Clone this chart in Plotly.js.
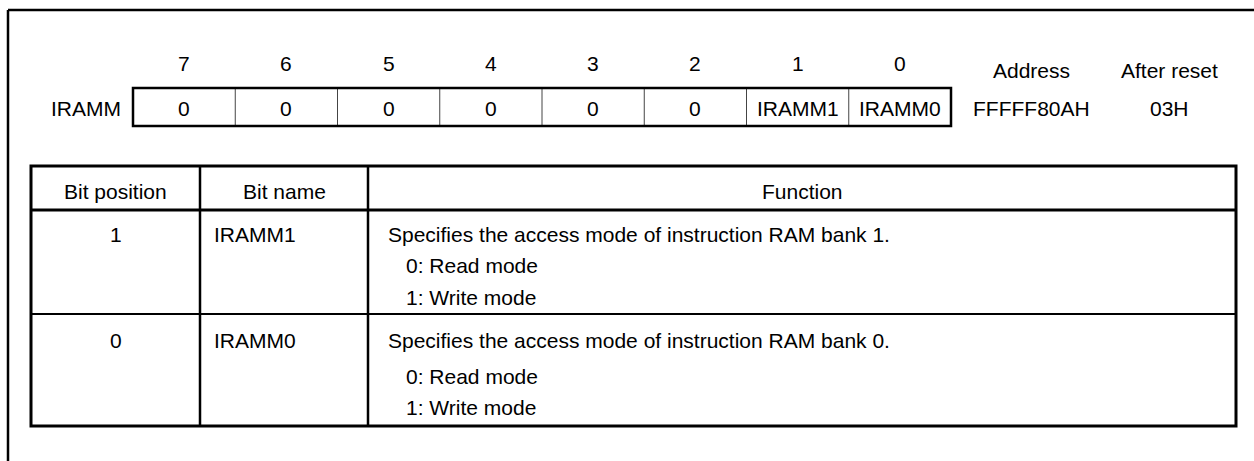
<!DOCTYPE html>
<html>
<head>
<meta charset="utf-8">
<script src="https://cdn.plot.ly/plotly-3.0.1.min.js"></script>
<style>html,body{margin:0;padding:0;background:#fff;}#chart{width:1254px;height:461px;}</style>
</head>
<body>
<div id="chart"></div>
<script>
// ---- data ----
const registerName = 'IRAMM';
const bitNumbers = ['7', '6', '5', '4', '3', '2', '1', '0'];
const bitValues = ['0', '0', '0', '0', '0', '0', 'IRAMM1', 'IRAMM0'];
const addressLabel = 'Address';
const addressValue = 'FFFFF80AH';
const resetLabel = 'After reset';
const resetValue = '03H';
const tableHeaders = ['Bit position', 'Bit name', 'Function'];
const rowBitPositions = ['1', '0'];
const rowBitNames = ['IRAMM1', 'IRAMM0'];
const rowFunctions = ['Specifies the access mode of instruction RAM bank 1.',
                      'Specifies the access mode of instruction RAM bank 0.'];
const rowOptions = [['0: Read mode', '1: Write mode'], ['0: Read mode', '1: Write mode']];

// ---- layout constants ----
const W = 1254, H = 461;
const FONT = {family: '"Liberation Sans", Arial, Helvetica, sans-serif', size: 21, color: '#000'};
const reg = {x0: 133, x1: 951, y0: 88, y1: 126, numY: 63, valY: 108, nameX: 122};
const addrX = 1031, resetX = 1169, infoHeadY = 70;
const tbl = {x0: 31, x1: 1236, cols: [31, 200, 368, 1236], rows: [166, 210, 314, 426], headY: 191};
const rowLineY = [[234, 265, 297], [340, 376, 407]];

const shapes = [];
const annotations = [];
function line(x0, y0, x1, y1, w, c) {
  shapes.push({type: 'line', xref: 'x', yref: 'y', x0, y0, x1, y1, line: {color: c || '#000', width: w}});
}
function text(t, x, y, anchor) {
  annotations.push({xref: 'x', yref: 'y', x, y, text: t, showarrow: false,
    xanchor: anchor || 'center', yanchor: 'middle', font: FONT, borderpad: 0});
}

// outer frame (top and left only, cropped)
line(8, 10, W + 5, 10, 2.5);
line(8, 10, 8, H + 5, 2.5);

// register box
const cw = (reg.x1 - reg.x0) / bitNumbers.length;
bitNumbers.forEach((b, i) => {
  const cx = reg.x0 + cw * (i + 0.5);
  text(b, cx, reg.numY);
  text(bitValues[i], cx, reg.valY);
  if (i > 0) line(reg.x0 + cw * i, reg.y0, reg.x0 + cw * i, reg.y1, 1, '#444');
});
shapes.push({type: 'rect', xref: 'x', yref: 'y', x0: reg.x0, x1: reg.x1, y0: reg.y0, y1: reg.y1,
  line: {color: '#000', width: 2.5}});
text(registerName, reg.nameX, reg.valY, 'right');
text(addressLabel, addrX, infoHeadY);
text(addressValue, addrX, reg.valY);
text(resetLabel, resetX, infoHeadY);
text(resetValue, resetX, reg.valY);

// table
line(tbl.x0, tbl.rows[1], tbl.x1, tbl.rows[1], 3);
line(tbl.x0, tbl.rows[2], tbl.x1, tbl.rows[2], 2);
line(tbl.cols[1], tbl.rows[0], tbl.cols[1], tbl.rows[3], 2.5);
line(tbl.cols[2], tbl.rows[0], tbl.cols[2], tbl.rows[3], 2.5);
shapes.push({type: 'rect', xref: 'x', yref: 'y', x0: tbl.x0, x1: tbl.x1, y0: tbl.rows[0], y1: tbl.rows[3],
  line: {color: '#000', width: 3}});
tableHeaders.forEach((h, i) => text(h, (tbl.cols[i] + tbl.cols[i + 1]) / 2, tbl.headY));
rowBitPositions.forEach((p, r) => {
  const ys = rowLineY[r];
  text(p, (tbl.cols[0] + tbl.cols[1]) / 2, ys[0]);
  text(rowBitNames[r], tbl.cols[1] + 13, ys[0], 'left');
  text(rowFunctions[r], tbl.cols[2] + 19, ys[0], 'left');
  rowOptions[r].forEach((o, k) => text(o, tbl.cols[2] + 37, ys[k + 1], 'left'));
});

const layout = {
  width: W, height: H,
  margin: {l: 0, r: 0, t: 0, b: 0, pad: 0},
  paper_bgcolor: '#fff', plot_bgcolor: '#fff',
  showlegend: false,
  xaxis: {range: [0, W], visible: false, fixedrange: true},
  yaxis: {range: [H, 0], visible: false, fixedrange: true},
  shapes, annotations
};
Plotly.newPlot('chart', [{x: [], y: [], type: 'scatter', hoverinfo: 'skip'}], layout, {staticPlot: true, displayModeBar: false});
</script>
</body>
</html>
